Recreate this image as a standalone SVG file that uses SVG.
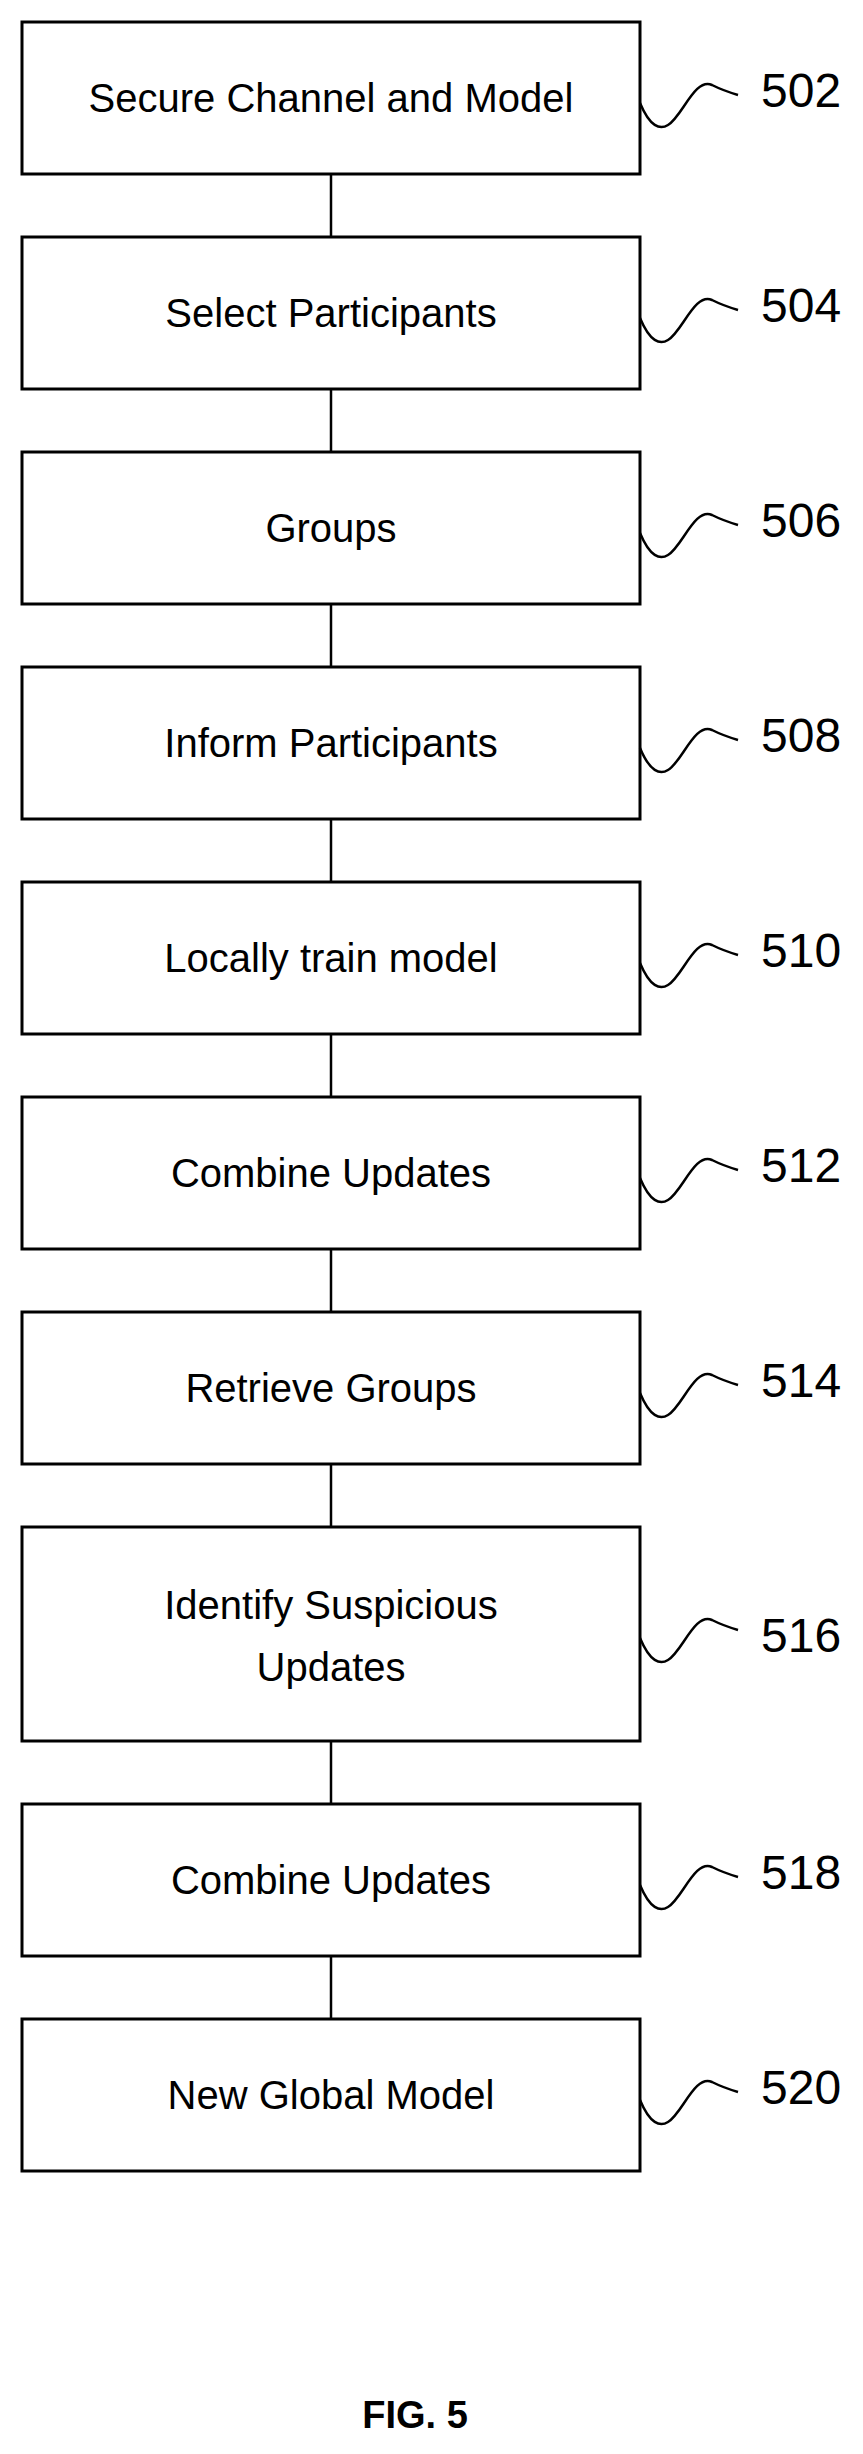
<svg xmlns="http://www.w3.org/2000/svg" width="863" height="2454" viewBox="0 0 863 2454">
<style>
.b{fill:#fff;stroke:#000;stroke-width:3}
.t{font-family:"Liberation Sans",Arial,sans-serif;font-size:40px;text-anchor:middle;fill:#000}
.n{font-family:"Liberation Sans",Arial,sans-serif;font-size:48px;fill:#000}
.s{fill:none;stroke:#000;stroke-width:2.5}
.c{stroke:#000;stroke-width:2.5}
</style>
<defs>
<path id="sq" class="s" d="M640 81 C650 105 660 108 668 103 C682 95 695 55 712 63 C720 67 728 70 738 73"/>
</defs>
<rect width="863" height="2454" fill="#fff"/>
<g id="connectors">
<line class="c" x1="331" y1="174" x2="331" y2="237"/>
<line class="c" x1="331" y1="389" x2="331" y2="452"/>
<line class="c" x1="331" y1="604" x2="331" y2="667"/>
<line class="c" x1="331" y1="819" x2="331" y2="882"/>
<line class="c" x1="331" y1="1034" x2="331" y2="1097"/>
<line class="c" x1="331" y1="1249" x2="331" y2="1312"/>
<line class="c" x1="331" y1="1464" x2="331" y2="1527"/>
<line class="c" x1="331" y1="1741" x2="331" y2="1804"/>
<line class="c" x1="331" y1="1956" x2="331" y2="2019"/>
</g>
<g id="n502"><rect class="b" x="22" y="22" width="618" height="152"/><text class="t" x="331" y="112">Secure Channel and Model</text><use href="#sq" transform="translate(0,22)"/><text class="n" x="761" y="107">502</text></g>
<g id="n504"><rect class="b" x="22" y="237" width="618" height="152"/><text class="t" x="331" y="327">Select Participants</text><use href="#sq" transform="translate(0,237)"/><text class="n" x="761" y="322">504</text></g>
<g id="n506"><rect class="b" x="22" y="452" width="618" height="152"/><text class="t" x="331" y="542">Groups</text><use href="#sq" transform="translate(0,452)"/><text class="n" x="761" y="537">506</text></g>
<g id="n508"><rect class="b" x="22" y="667" width="618" height="152"/><text class="t" x="331" y="757">Inform Participants</text><use href="#sq" transform="translate(0,667)"/><text class="n" x="761" y="752">508</text></g>
<g id="n510"><rect class="b" x="22" y="882" width="618" height="152"/><text class="t" x="331" y="972">Locally train model</text><use href="#sq" transform="translate(0,882)"/><text class="n" x="761" y="967">510</text></g>
<g id="n512"><rect class="b" x="22" y="1097" width="618" height="152"/><text class="t" x="331" y="1187">Combine Updates</text><use href="#sq" transform="translate(0,1097)"/><text class="n" x="761" y="1182">512</text></g>
<g id="n514"><rect class="b" x="22" y="1312" width="618" height="152"/><text class="t" x="331" y="1402">Retrieve Groups</text><use href="#sq" transform="translate(0,1312)"/><text class="n" x="761" y="1397">514</text></g>
<g id="n516"><rect class="b" x="22" y="1527" width="618" height="214"/><text class="t" x="331" y="1619">Identify Suspicious</text><text class="t" x="331" y="1681">Updates</text><use href="#sq" transform="translate(0,1557)"/><text class="n" x="761" y="1652">516</text></g>
<g id="n518"><rect class="b" x="22" y="1804" width="618" height="152"/><text class="t" x="331" y="1894">Combine Updates</text><use href="#sq" transform="translate(0,1804)"/><text class="n" x="761" y="1889">518</text></g>
<g id="n520"><rect class="b" x="22" y="2019" width="618" height="152"/><text class="t" x="331" y="2109">New Global Model</text><use href="#sq" transform="translate(0,2019)"/><text class="n" x="761" y="2104">520</text></g>
<text x="415" y="2428" font-family="Liberation Sans,Arial,sans-serif" font-size="38" font-weight="bold" text-anchor="middle">FIG. 5</text>
</svg>
